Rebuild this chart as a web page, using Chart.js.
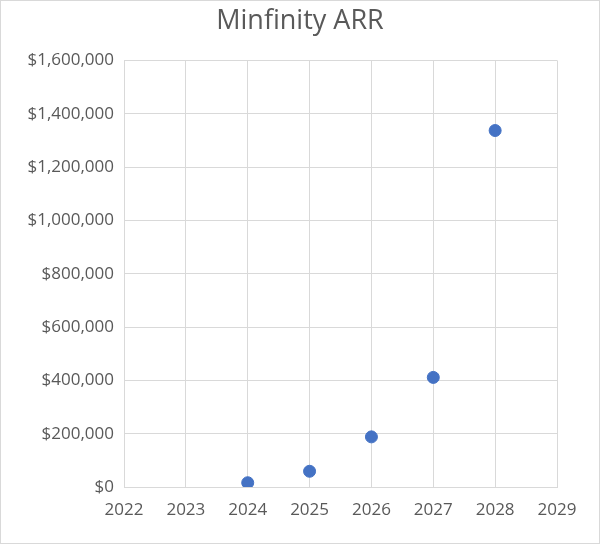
<!DOCTYPE html>
<html>
<head>
<meta charset="utf-8">
<script src="https://cdn.jsdelivr.net/npm/chart.js"></script>
<style>
  html, body { margin: 0; padding: 0; background: #fff; }
  #wrap { width: 600px; height: 544px; box-sizing: border-box; border: 1px solid #d9d9d9; }
  canvas { display: block; }
</style>
</head>
<body>
<div id="wrap"><canvas id="arrChart" width="598" height="542"></canvas></div>
<script>
// Data
const years = [2024, 2025, 2026, 2027, 2028];
const arrValues = [16000, 59000, 188000, 411000, 1337000];
const xTicks = [2022, 2023, 2024, 2025, 2026, 2027, 2028, 2029];
const yTicks = [0, 200000, 400000, 600000, 800000, 1000000, 1200000, 1400000, 1600000];

const textColor = '#595959';
const gridColor = '#d9d9d9';

const ctx = document.getElementById('arrChart').getContext('2d');

new Chart(ctx, {
  type: 'scatter',
  data: {
    datasets: [{
      label: 'ARR',
      data: years.map((y, i) => ({ x: y, y: arrValues[i] })),
      backgroundColor: '#4472C4',
      borderColor: '#4472C4',
      pointRadius: 6,
      pointHoverRadius: 6
    }]
  },
  options: {
    responsive: false,
    animation: false,
    layout: { padding: 0 },
    plugins: {
      legend: { display: false },
      tooltip: { enabled: false },
      title: {
        display: true,
        text: 'Minfinity ARR',
        color: textColor,
        font: { family: 'Open Sans', size: 27, weight: 'normal' },
        padding: { top: 4, bottom: 23 }
      }
    },
    scales: {
      x: {
        type: 'linear',
        min: xTicks[0],
        max: xTicks[xTicks.length - 1],
        afterBuildTicks: scale => { scale.ticks = xTicks.map(v => ({ value: v })); },
        afterFit: scale => { scale.height = 56; },
        grid: { color: gridColor, drawTicks: false },
        border: { color: gridColor },
        ticks: {
          color: textColor,
          font: { family: 'Open Sans', size: 17 },
          padding: 13,
          callback: v => String(v)
        }
      },
      y: {
        min: yTicks[0],
        max: yTicks[yTicks.length - 1],
        afterBuildTicks: scale => { scale.ticks = yTicks.map(v => ({ value: v })); },
        afterFit: scale => { scale.width = 123; },
        grid: { color: gridColor, drawTicks: false },
        border: { color: gridColor },
        ticks: {
          color: textColor,
          font: { family: 'Open Sans', size: 17 },
          padding: 10,
          callback: v => '$' + v.toLocaleString('en-US')
        }
      },
      // empty right-hand spacer so the plot ends short of the edge
      spacer: {
        type: 'linear',
        position: 'right',
        afterFit: scale => { scale.width = 42; },
        grid: { display: false },
        border: { display: false },
        ticks: { display: false }
      }
    }
  }
});
</script>
</body>
</html>
